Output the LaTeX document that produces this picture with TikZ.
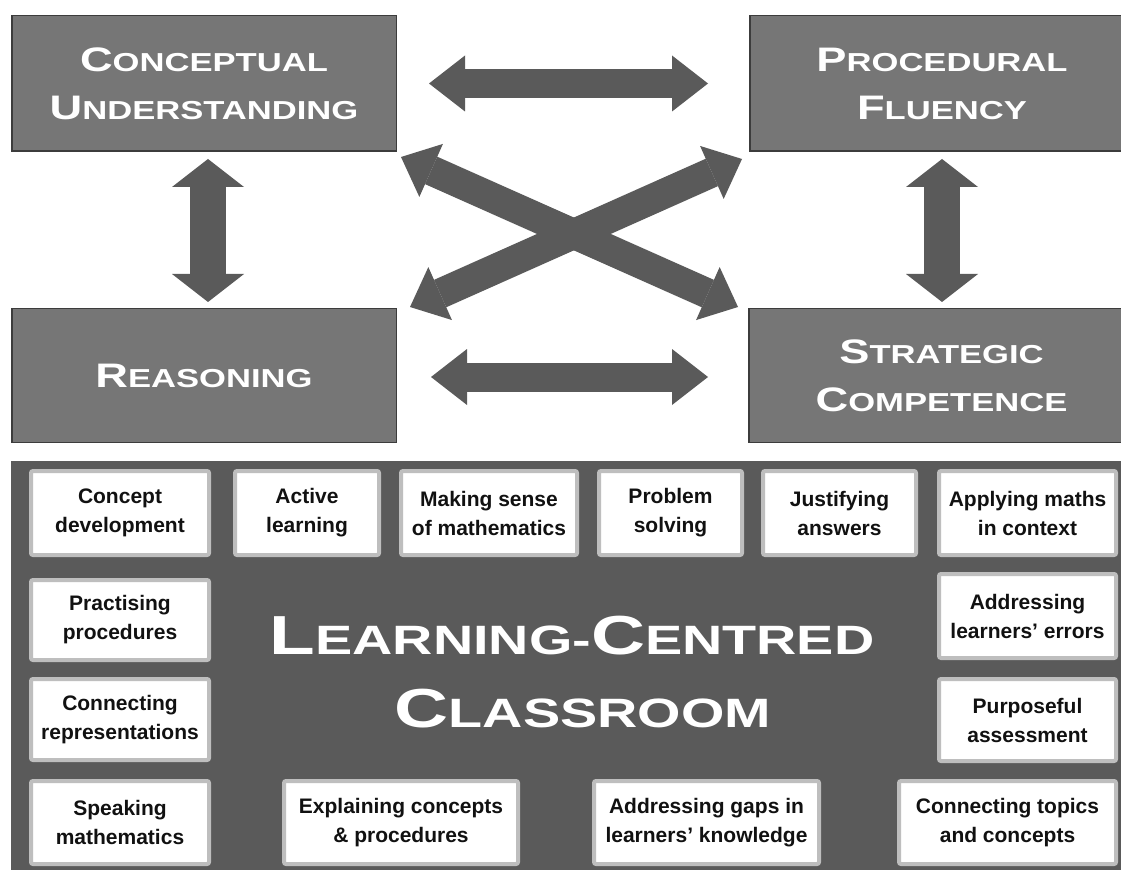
\documentclass[tikz,border=0pt]{standalone}
\usepackage{fontspec}
\setmainfont{Liberation Sans}
\newfontfamily\titlefont{Liberation Sans}[FakeStretch=1.33]
\newfontfamily\paneltitlefont{Liberation Sans}[FakeStretch=1.36]
\usetikzlibrary{arrows.meta}
\definecolor{boxfill}{HTML}{767676}
\definecolor{boxline}{HTML}{3C3C3C}
\definecolor{darkg}{HTML}{5A5A5A}
\definecolor{sborder}{HTML}{BEBEBE}
\definecolor{txt}{HTML}{111111}
\newcommand{\bigsc}[2]{{\fontsize{34}{48}\selectfont #1}{\fontsize{26}{48}\selectfont #2}}
\newcommand{\hugesc}[2]{{\fontsize{55}{73}\selectfont #1}{\fontsize{41}{73}\selectfont #2}}
\tikzset{
  bigbox/.style={draw=boxline, line width=1.5pt, fill=boxfill, text=white, align=center,
    inner sep=0pt, font=\titlefont\bfseries\fontsize{34}{48}\selectfont},
  sbox/.style={draw=sborder, line width=4pt, fill=white, rounded corners=2pt, text=txt,
    align=center, inner sep=0pt, font=\bfseries\fontsize{21}{29}\selectfont},
  bigtitle/.style={text=white, inner sep=0pt, font=\paneltitlefont\bfseries\fontsize{55}{73}\selectfont},
  varrow/.style={draw=darkg, line width=36pt,
    {Triangle[length=28pt,width=72pt,line width=0pt]}-{Triangle[length=28pt,width=72pt,line width=0pt]}},
  harrow/.style={draw=darkg, line width=29pt,
    {Triangle[length=36pt,width=56pt,line width=0pt]}-{Triangle[length=36pt,width=56pt,line width=0pt]}},
  darrow/.style={draw=darkg, line width=30pt,
    {Triangle[length=33pt,width=58pt,line width=0pt]}-{Triangle[length=33pt,width=58pt,line width=0pt]}}
}
\begin{document}
\begin{tikzpicture}[x=1pt,y=-1pt]
\useasboundingbox (0,0) rectangle (1121,874);
\fill[white] (0,0) rectangle (1121,874);

% four strands
\node[bigbox, minimum width=384.5pt, minimum height=135.5pt] (cu) at (204,83.5)
  {\bigsc{C}{ONCEPTUAL}\\\bigsc{U}{NDERSTANDING}};
\node[bigbox, minimum width=384.5pt, minimum height=135.5pt] (pf) at (942,83.5)
  {\bigsc{P}{ROCEDURAL}\\\bigsc{F}{LUENCY}};
\node[bigbox, minimum width=384.5pt, minimum height=133.5pt] (re) at (204,375.5)
  {\bigsc{R}{EASONING}};
\node[bigbox, minimum width=385.5pt, minimum height=133.5pt] (sc) at (941.5,375.5)
  {\bigsc{S}{TRATEGIC}\\\bigsc{C}{OMPETENCE}};

% arrows
\draw[harrow, shorten <=32pt, shorten >=41pt] (cu.east) -- (pf.west);
\draw[harrow, shorten <=34pt, shorten >=40pt] ([shift={(0,1.5)}]re.east) -- ([shift={(0,1.5)}]sc.west);
\draw[varrow, shorten <=7pt, shorten >=6pt] ([shift={(4,0)}]cu.south) -- ([shift={(4,0)}]re.north);
\draw[varrow, shorten <=7pt, shorten >=6pt] (pf.south) -- (pf.south |- sc.north);
\draw[darrow] ([shift={(4,5)}]cu.south east) -- ([shift={(-10,-1)}]sc.north west);
\draw[darrow] ([shift={(13,-1)}]re.north east) -- ([shift={(-7,7)}]pf.south west);

% panel
\node[fill=darkg, minimum width=1114pt, minimum height=409pt, inner sep=0pt] (panel) at (568,665.5) {};
\node[bigtitle, anchor=base] (lc1) at (572,654) {\hugesc{L}{EARNING-}\hugesc{C}{ENTRED}};
\node[bigtitle, anchor=base] (lc2) at (583,727) {\hugesc{C}{LASSROOM}};

% practices
\node[sbox, minimum width=178pt, minimum height=84pt] (b1) at (120,513) {Concept\\development};
\node[sbox, minimum width=144pt, minimum height=84pt] (b2) at (307,513) {Active\\learning};
\node[sbox, minimum width=176pt, minimum height=84pt] (b3) at (489,513) {Making sense\\of mathematics};
\node[sbox, minimum width=143pt, minimum height=84pt] (b4) at (670.5,513) {Problem\\solving};
\node[sbox, minimum width=153pt, minimum height=84pt] (b5) at (839.5,513) {Justifying\\answers};
\node[sbox, minimum width=177pt, minimum height=84pt] (b6) at (1027.5,513) {Applying maths\\in context};
\node[sbox, minimum width=178pt, minimum height=80pt] (b7) at (120,620) {Practising\\procedures};
\node[sbox, minimum width=177pt, minimum height=84pt] (b8) at (1027.5,616) {Addressing\\learners’ errors};
\node[sbox, minimum width=178pt, minimum height=81pt] (b9) at (120,719.5) {Connecting\\representations};
\node[sbox, minimum width=177pt, minimum height=82pt] (b10) at (1027.5,720) {Purposeful\\assessment};
\node[sbox, minimum width=178pt, minimum height=83pt] (b11) at (120,822.5) {Speaking\\mathematics};
\node[sbox, minimum width=234pt, minimum height=83pt] (b12) at (401,822.5) {Explaining concepts\\\& procedures};
\node[sbox, minimum width=225pt, minimum height=83pt] (b13) at (706.5,822.5) {Addressing gaps in\\learners’ knowledge};
\node[sbox, minimum width=217pt, minimum height=83pt] (b14) at (1007.5,822.5) {Connecting topics\\and concepts};
\end{tikzpicture}
\end{document}
